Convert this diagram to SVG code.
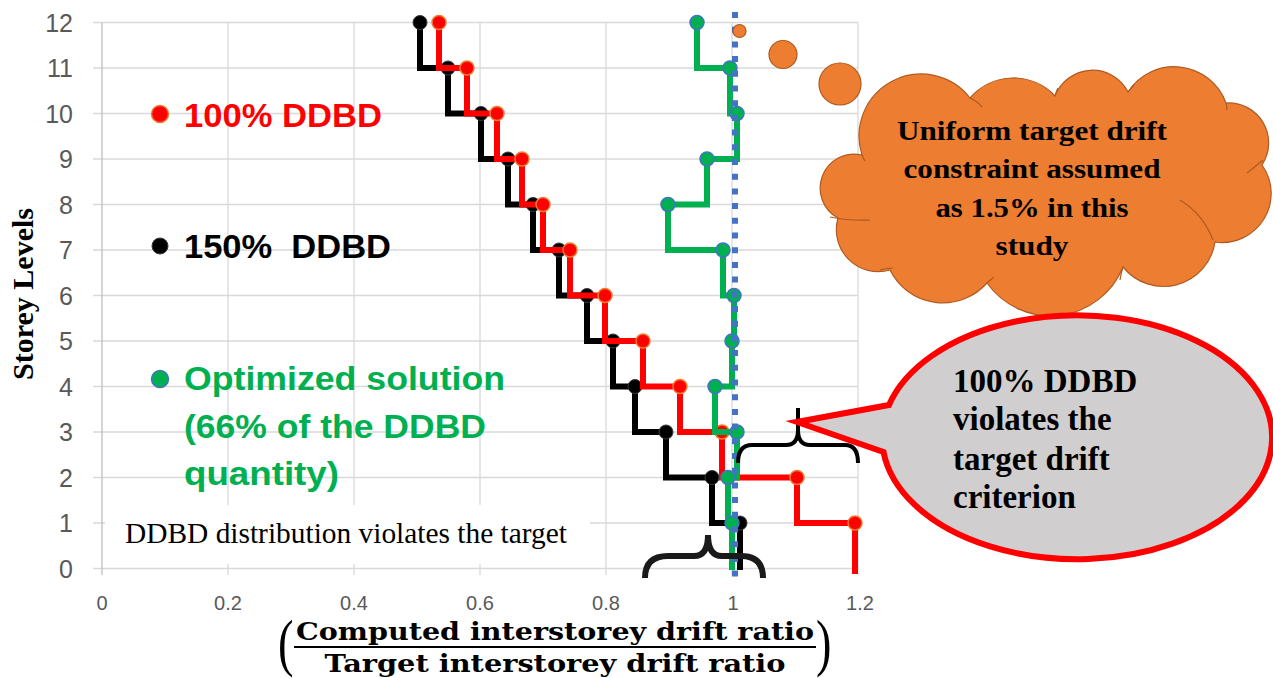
<svg xmlns="http://www.w3.org/2000/svg" width="1273" height="678" viewBox="0 0 1273 678">
<style>
.grid{stroke:#D9D9D9;stroke-width:1.3;fill:none}
.axis{stroke:#BFBFBF;stroke-width:1.3;fill:none}
.ylab{font-family:"Liberation Sans",Arial,sans-serif;font-size:25px;fill:#595959;text-anchor:end}
.xlab{font-family:"Liberation Sans",Arial,sans-serif;font-size:20px;fill:#595959;text-anchor:middle}
.ser{fill:none;stroke-width:6;stroke-linejoin:miter}
.leg{font-family:"Liberation Sans",Arial,sans-serif;font-size:34px;font-weight:bold}
.serif{font-family:"Liberation Serif","Times New Roman",serif}
.cloudtxt{font-family:"Liberation Serif","Times New Roman",serif;font-size:28px;font-weight:bold;fill:#000;text-anchor:middle}
.calltxt{font-family:"Liberation Serif","Times New Roman",serif;font-size:33px;font-weight:bold;fill:#000}
.frac{font-family:"DejaVu Serif",serif;font-size:25px;font-weight:bold;fill:#000;text-anchor:middle}
.dr{fill:#FF0000;stroke:#ED7D31;stroke-width:1.5}
.dk{fill:#000;stroke:#3a3a3a;stroke-width:1}
.dg{fill:#00B050;stroke:#4472C4;stroke-width:1.5}
.orange{fill:#ED7D31;stroke:#AE5A21;stroke-width:1.2}
</style>

<g id="chart-grid">
<path class="grid" d="M93,22.5H858M93,68H858M93,113.5H858M93,159H858M93,204.5H858M93,250H858M93,295.5H858M93,341H858M93,386.5H858M93,432H858M93,477.5H858M93,523H858M93,568.5H858"/>
<path class="grid" d="M228,22.5V575M354,22.5V575M480,22.5V575M606,22.5V575M732,22.5V575M858,22.5V575"/>
<path class="axis" d="M102,22.5V575"/>
</g>

<g id="y-axis-labels">
<text class="ylab" x="73" y="31.5">12</text>
<text class="ylab" x="73" y="77">11</text>
<text class="ylab" x="73" y="122.5">10</text>
<text class="ylab" x="73" y="168">9</text>
<text class="ylab" x="73" y="213.5">8</text>
<text class="ylab" x="73" y="259">7</text>
<text class="ylab" x="73" y="304.5">6</text>
<text class="ylab" x="73" y="350">5</text>
<text class="ylab" x="73" y="395.5">4</text>
<text class="ylab" x="73" y="441">3</text>
<text class="ylab" x="73" y="486.5">2</text>
<text class="ylab" x="73" y="532">1</text>
<text class="ylab" x="73" y="577.5">0</text>
</g>

<g id="x-axis-labels">
<text class="xlab" x="102" y="610">0</text>
<text class="xlab" x="228" y="610">0.2</text>
<text class="xlab" x="354" y="610">0.4</text>
<text class="xlab" x="480" y="610">0.6</text>
<text class="xlab" x="606" y="610">0.8</text>
<text class="xlab" x="733" y="610">1</text>
<text class="xlab" x="860" y="610">1.2</text>
</g>

<g id="y-axis-title">
<text class="serif" transform="translate(33,294) rotate(-90)" text-anchor="middle" font-size="30" font-weight="bold" fill="#000">Storey Levels</text>
</g>

<g id="x-axis-title">
<text class="frac" x="555" y="640" textLength="518" lengthAdjust="spacingAndGlyphs">Computed interstorey drift ratio</text>
<line x1="294" y1="647" x2="816" y2="647" stroke="#000" stroke-width="2"/>
<text class="frac" x="555" y="672" textLength="461" lengthAdjust="spacingAndGlyphs">Target interstorey drift ratio</text>
<text class="serif" transform="translate(278,664) scale(0.8,1.1)" font-size="58" fill="#000">(</text>
<text class="serif" transform="translate(816,664) scale(0.8,1.1)" font-size="58" fill="#000">)</text>
</g>

<g id="note-ddbd-distribution">
<rect x="105" y="505" width="485" height="59" fill="#FFFFFF"/>
<text class="serif" x="125" y="543" font-size="29" fill="#000" textLength="442" lengthAdjust="spacingAndGlyphs">DDBD distribution violates the target</text>
</g>

<g id="legend">
<circle class="dr" cx="160" cy="114" r="8.5"/>
<text class="leg" x="184" y="127" fill="#FF0000" textLength="198" lengthAdjust="spacingAndGlyphs">100% DDBD</text>
<circle class="dk" cx="160" cy="246" r="8"/>
<text class="leg" x="184" y="258" fill="#000000" xml:space="preserve" textLength="207" lengthAdjust="spacingAndGlyphs">150%  DDBD</text>
<circle class="dg" cx="160" cy="379" r="8.5"/>
<text class="leg" x="184" y="390" fill="#00B050" textLength="321" lengthAdjust="spacingAndGlyphs">Optimized solution</text>
<text class="leg" x="184" y="438" fill="#00B050" textLength="302" lengthAdjust="spacingAndGlyphs">(66% of the DDBD</text>
<text class="leg" x="184" y="485" fill="#00B050" textLength="155" lengthAdjust="spacingAndGlyphs">quantity)</text>
</g>

<g id="series-150-ddbd">
<path class="ser" stroke="#000000" d="M420,22.5V68H448V113.5H481V159H508V204.5H533V250H559V295.5H587V341H613V386.5H635V432H666V477.5H712V523H740V570"/>
<g>
<circle class="dk" cx="420" cy="22.5" r="7"/><circle class="dk" cx="448" cy="68" r="7"/><circle class="dk" cx="481" cy="113.5" r="7"/><circle class="dk" cx="508" cy="159" r="7"/><circle class="dk" cx="533" cy="204.5" r="7"/><circle class="dk" cx="559" cy="250" r="7"/><circle class="dk" cx="587" cy="295.5" r="7"/><circle class="dk" cx="613" cy="341" r="7"/><circle class="dk" cx="635" cy="386.5" r="7"/><circle class="dk" cx="666" cy="432" r="7"/><circle class="dk" cx="712" cy="477.5" r="7"/><circle class="dk" cx="740" cy="523" r="7"/>
</g>
</g>

<g id="series-100-ddbd">
<path class="ser" stroke="#FF0000" d="M439,22.5V68H467V113.5H497V159H522V204.5H543V250H570V295.5H605V341H643V386.5H680V432H722V477.5H797V523H855V574"/>
<g>
<circle class="dr" cx="439" cy="22.5" r="7"/><circle class="dr" cx="467" cy="68" r="7"/><circle class="dr" cx="497" cy="113.5" r="7"/><circle class="dr" cx="522" cy="159" r="7"/><circle class="dr" cx="543" cy="204.5" r="7"/><circle class="dr" cx="570" cy="250" r="7"/><circle class="dr" cx="605" cy="295.5" r="7"/><circle class="dr" cx="643" cy="341" r="7"/><circle class="dr" cx="680" cy="386.5" r="7"/><circle class="dr" cx="722" cy="432" r="7"/><circle class="dr" cx="797" cy="477.5" r="7"/><circle class="dr" cx="855" cy="523" r="7"/>
</g>
</g>

<g id="series-optimized">
<path class="ser" stroke="#00B050" d="M697,22.5V68H730V113.5H737V159H707V204.5H668V250H723V295.5H734V341H732V386.5H715V432H737V477.5H728V523H732V570"/>
<g>
<circle class="dg" cx="697" cy="22.5" r="7"/><circle class="dg" cx="730" cy="68" r="7"/><circle class="dg" cx="737" cy="113.5" r="7"/><circle class="dg" cx="707" cy="159" r="7"/><circle class="dg" cx="668" cy="204.5" r="7"/><circle class="dg" cx="723" cy="250" r="7"/><circle class="dg" cx="734" cy="295.5" r="7"/><circle class="dg" cx="732" cy="341" r="7"/><circle class="dg" cx="715" cy="386.5" r="7"/><circle class="dg" cx="737" cy="432" r="7"/><circle class="dg" cx="728" cy="477.5" r="7"/><circle class="dg" cx="732" cy="523" r="7"/>
</g>
</g>

<g id="target-line">
<line x1="735" y1="12" x2="735" y2="578" stroke="#4472C4" stroke-width="6" stroke-dasharray="6 8.7"/>
</g>

<g id="connectors">
<path d="M738,463Q738,445 752,445H786Q798,445 798,430V408M798,430Q798,445 810,445H845Q858,445 858,463" fill="none" stroke="#000" stroke-width="4"/>
<path d="M645,578Q645,556 668,556H694Q708,556 708,535Q708,556 722,556H741Q763,556 763,578" fill="none" stroke="#1a1a1a" stroke-width="6"/>
</g>

<g id="thought-cloud">
<circle class="orange" cx="739.5" cy="31" r="6.5"/>
<circle class="orange" cx="783" cy="54.5" r="14"/>
<circle class="orange" cx="840" cy="84" r="21"/>
<path class="orange" d="M862,155A62,62 0 0 1 970,98A57,57 0 0 1 1055,96A40,40 0 0 1 1128,92A55,55 0 0 1 1226,103A40,40 0 0 1 1262,165A49,49 0 0 1 1215,242A52,52 0 0 1 1123,267A78,78 0 0 1 987,283A59,59 0 0 1 890,270A42,42 0 0 1 838,218A34,34 0 0 1 862,155Z"/>
<path d="M862,155Q863,158 865,161M970,98Q977,101 982,107M1055,96Q1056,91 1058,88M1128,92Q1131,88 1134,85M1226,103Q1227,107 1227,110M1247,173Q1256,166 1263,160M1180,200Q1203,214 1213,240M1123,267Q1121,273 1120,280M987,283Q990,280 994,277M880,270Q887,268 893,268M830,217Q851,221 870,220" fill="none" stroke="#AE5A21" stroke-width="1.2"/>
<text class="cloudtxt" x="1032" y="140" textLength="270" lengthAdjust="spacingAndGlyphs">Uniform target drift</text>
<text class="cloudtxt" x="1032" y="178" textLength="257" lengthAdjust="spacingAndGlyphs">constraint assumed</text>
<text class="cloudtxt" x="1032" y="217" textLength="193" lengthAdjust="spacingAndGlyphs">as 1.5% in this</text>
<text class="cloudtxt" x="1032" y="255" textLength="73" lengthAdjust="spacingAndGlyphs">study</text>
</g>

<g id="callout">
<path d="M889,405L797,422L883.5,452A195,122 0 1 0 889,405Z" fill="#D0CECE" stroke="#FF0000" stroke-width="6" stroke-linejoin="miter"/>
<text class="calltxt" x="953" y="392">100% DDBD</text>
<text class="calltxt" x="953" y="430">violates the</text>
<text class="calltxt" x="953" y="470">target drift</text>
<text class="calltxt" x="953" y="508">criterion</text>
</g>
</svg>
